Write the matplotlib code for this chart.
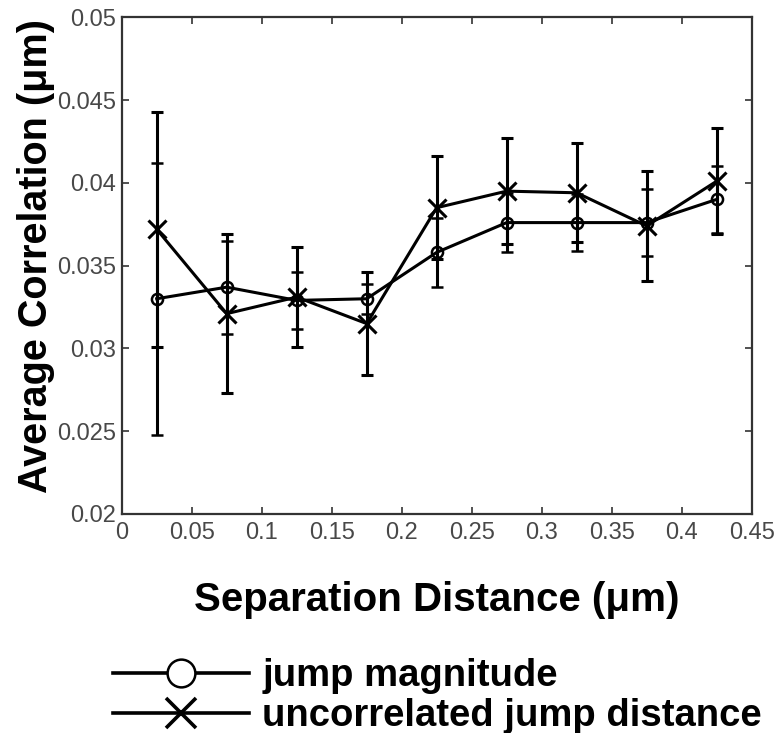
import matplotlib
matplotlib.use('Agg')
import matplotlib.pyplot as plt
import numpy as np
from matplotlib.lines import Line2D
from matplotlib.ticker import FormatStrFormatter, MultipleLocator

plt.rcParams['font.family'] = ['Liberation Sans', 'DejaVu Sans']

# separation distance bins (um)
sep = [0.025, 0.075, 0.125, 0.175, 0.225, 0.275, 0.325, 0.375, 0.425]

# jump magnitude (circles)
jump_mag = [0.0330, 0.0337, 0.0329, 0.0330, 0.0358, 0.0376, 0.0376, 0.0376, 0.0390]
jump_mag_err = [0.0082, 0.0028, 0.0017, 0.0009, 0.0021, 0.0018, 0.0017, 0.0020, 0.0020]

# uncorrelated jump distance (crosses)
uncorr = [0.0372, 0.0321, 0.0331, 0.0315, 0.0385, 0.0395, 0.0394, 0.0374, 0.0401]
uncorr_err = [0.0071, 0.0048, 0.0030, 0.0031, 0.0031, 0.0032, 0.0030, 0.0033, 0.0032]

labels = ['jump magnitude', 'uncorrelated jump distance']

fig = plt.figure(figsize=(7.79, 7.33), dpi=100)
ax = fig.add_axes([0.1562, 0.2988, 0.8087, 0.6776])

lw = 2.2
ax.errorbar(sep, jump_mag, yerr=jump_mag_err, color='black', lw=lw,
            marker='o', markersize=8, markerfacecolor='none',
            markeredgewidth=1.8, capsize=4.5, capthick=lw, elinewidth=lw)
ax.errorbar(sep, uncorr, yerr=uncorr_err, color='black', lw=lw,
            marker='x', markersize=13, markeredgewidth=2.2,
            capsize=4.5, capthick=lw, elinewidth=lw)

ax.set_xlim(0, 0.45)
ax.set_ylim(0.02, 0.05)
ax.xaxis.set_major_locator(MultipleLocator(0.05))
ax.yaxis.set_major_locator(MultipleLocator(0.005))
ax.xaxis.set_major_formatter(FormatStrFormatter('%g'))
ax.yaxis.set_major_formatter(FormatStrFormatter('%g'))
ax.tick_params(direction='in', top=True, right=True, length=5, width=1.2,
               labelsize=17, labelcolor='#484848', color='#333333')
ax.tick_params(axis='x', pad=6)
ax.tick_params(axis='y', pad=4)
for s in ax.spines.values():
    s.set_linewidth(1.6)
    s.set_color('#333333')

ax.set_xlabel('Separation Distance (\u03bcm)', fontsize=29, fontweight='bold')
ax.set_ylabel('Average Correlation (\u03bcm)', fontsize=28.5, fontweight='bold')
ax.xaxis.set_label_coords(0.5, -0.135)
ax.yaxis.set_label_coords(-0.106, 0.52)

handles = [
    Line2D([], [], color='black', lw=2.6, marker='o', markersize=20,
           markerfacecolor='white', markeredgewidth=1.8),
    Line2D([], [], color='black', lw=2.6, marker='x', markersize=22,
           markeredgewidth=2.6),
]
fig.legend(handles, labels, loc='center left', bbox_to_anchor=(0.145, 0.05),
           frameon=False, borderpad=0, borderaxespad=0, handlelength=3.55,
           handletextpad=0.36, labelspacing=0.1,
           prop={'size': 27.5, 'weight': 'bold'})

fig.savefig('out.png', dpi=100)
